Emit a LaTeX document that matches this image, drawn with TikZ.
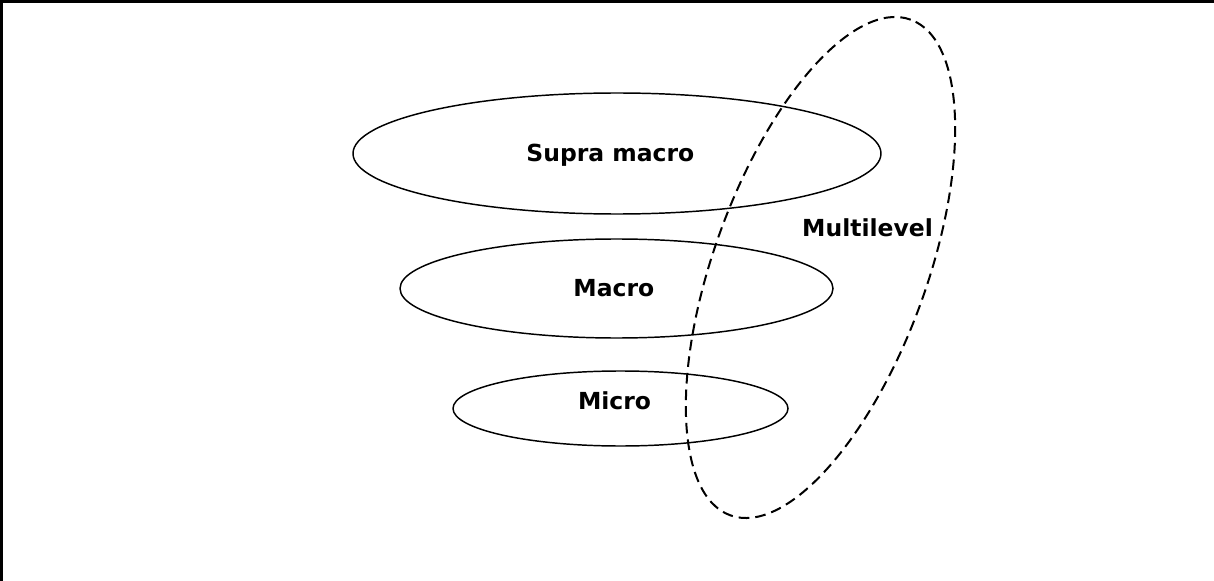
\documentclass[tikz,border=0pt]{standalone}
\usepackage{fontspec}
\setmainfont{DejaVu Sans}
\usetikzlibrary{shapes.geometric}
\tikzset{
  lbl/.style={font=\fontsize{17.6}{20}\selectfont\bfseries},
  level/.style={ellipse,draw,line width=1.1pt,inner sep=0pt},
}
\begin{document}
\begin{tikzpicture}[x=0.75pt,y=-0.75pt]
  \useasboundingbox (0,0) rectangle (1214,581);
  \draw[line width=2.2pt] (1.5,581) -- (1.5,1.5) -- (1214,1.5);
  \node[level,minimum width=396pt,minimum height=90.75pt,
        label={[lbl,xshift=-5pt,yshift=-1pt]center:Supra macro}] (supra) at (617,153.5) {};
  \node[level,minimum width=324.75pt,minimum height=74.25pt,
        label={[lbl,xshift=-2pt]center:Macro}] (macro) at (616.5,288.5) {};
  \node[level,minimum width=251.25pt,minimum height=56.25pt,
        label={[lbl,xshift=-4.5pt,yshift=6pt]center:Micro}] (micro) at (620.5,408.5) {};
  \node[ellipse,draw,line width=1.5pt,dash pattern=on 8pt off 4.5pt,rotate=70,
        minimum width=395.6pt,minimum height=159.6pt,inner sep=0pt] (multi) at (820.5,267.5) {};
  \node[lbl] (multilbl) at (867.5,228) {Multilevel};
\end{tikzpicture}
\end{document}
